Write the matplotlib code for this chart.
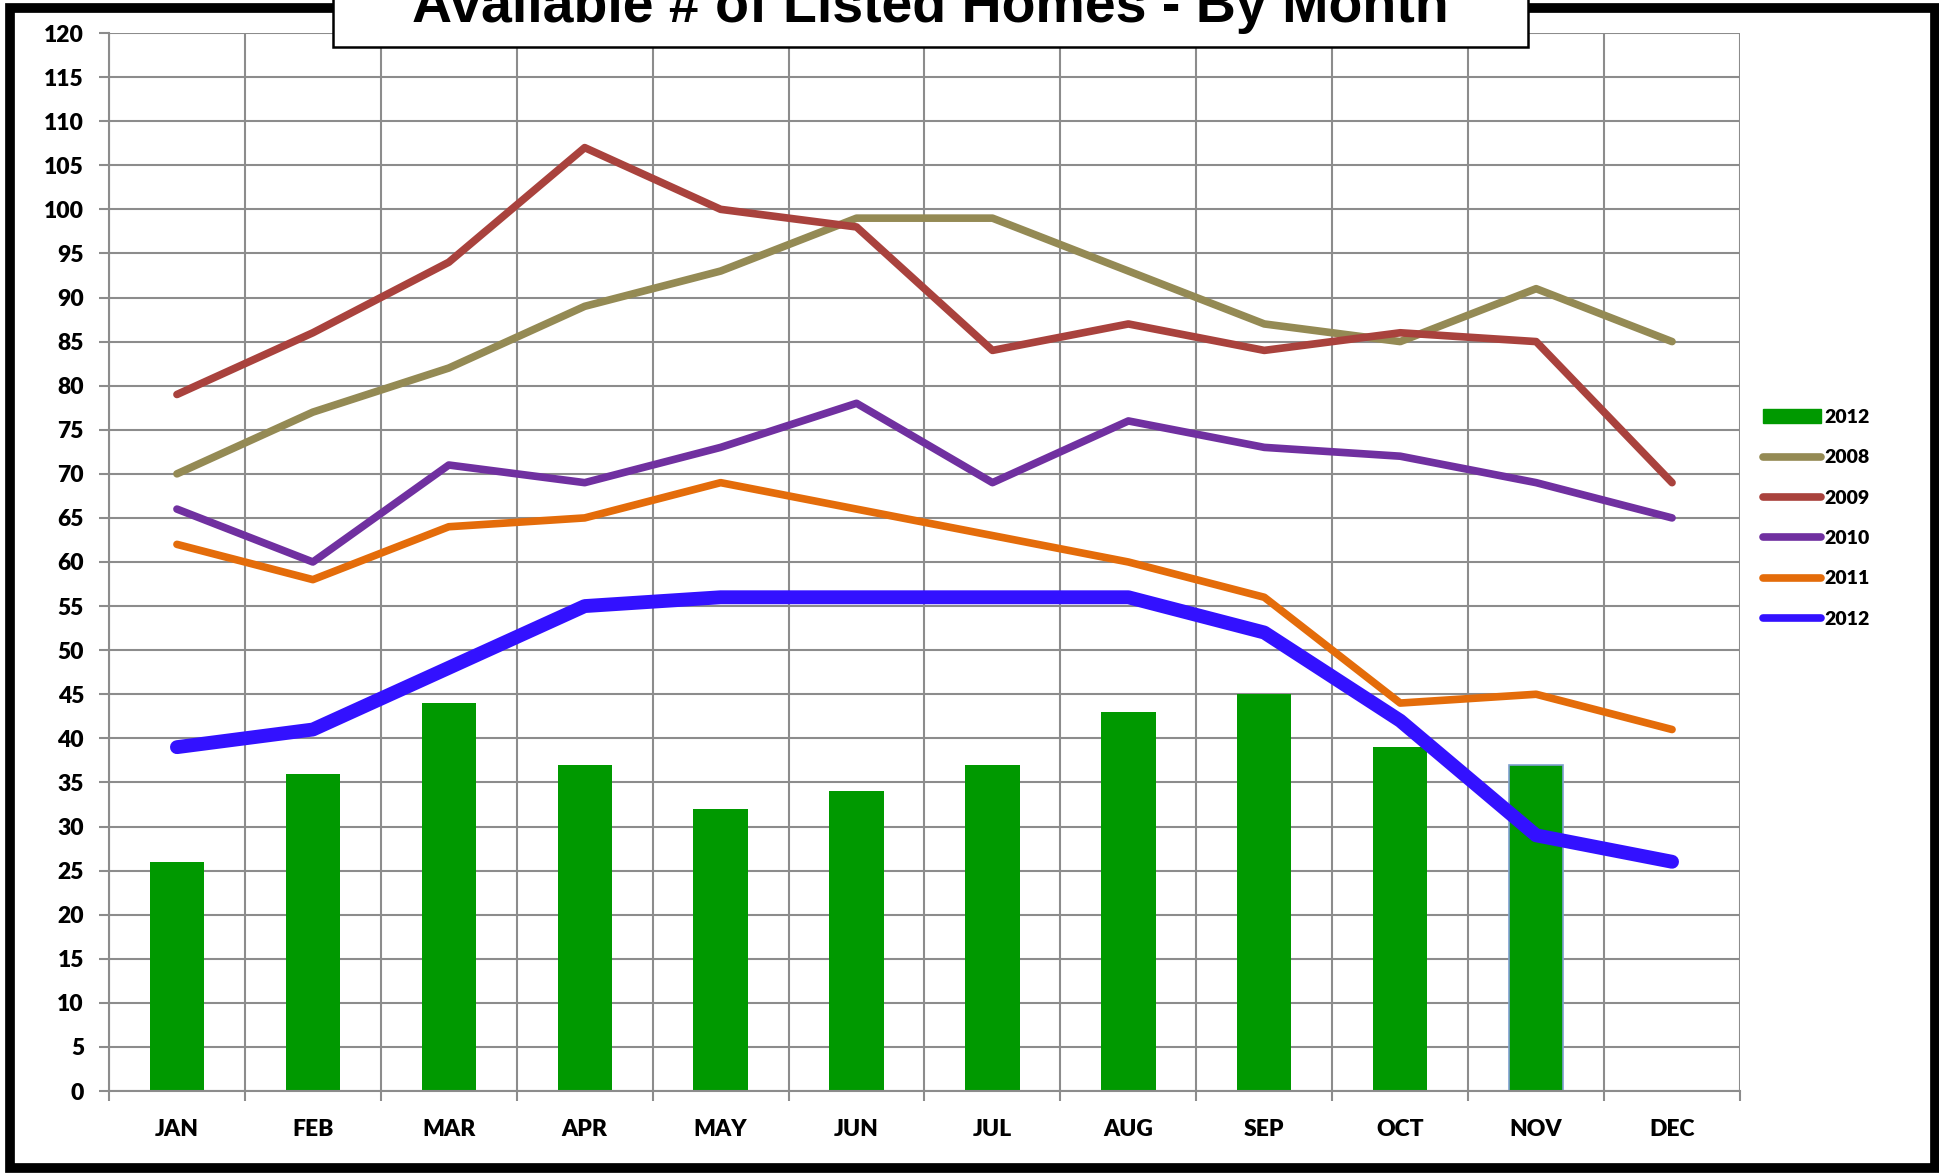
import matplotlib
matplotlib.use("Agg")
import matplotlib.pyplot as plt
import numpy as np
from matplotlib.patches import Rectangle
from matplotlib.lines import Line2D

# === DATA ===
months = ["JAN", "FEB", "MAR", "APR", "MAY", "JUN", "JUL", "AUG", "SEP", "OCT", "NOV", "DEC"]
bars_2012 = [26, 36, 44, 37, 32, 34, 37, 43, 45, 39, 37, None]
y2008 = [70, 77, 82, 89, 93, 99, 99, 93, 87, 85, 91, 85]
y2009 = [79, 86, 94, 107, 100, 98, 84, 87, 84, 86, 85, 69]
y2010 = [66, 60, 71, 69, 73, 78, 69, 76, 73, 72, 69, 65]
y2011 = [62, 58, 64, 65, 69, 66, 63, 60, 56, 44, 45, 41]
y2012 = [39, 41, 48, 55, 56, 56, 56, 56, 52, 42, 29, 26]
y_ticks = list(range(0, 125, 5))
title = "Available # of Listed Homes - By Month"

# === STYLE ===
W, H = 1940, 1176
tick_font = ["Lato", "DejaVu Sans"]
title_font = ["Liberation Sans Narrow", "Liberation Sans", "DejaVu Sans"]
grid_col = "#8c8c8c"
c_bar = "#009900"
c2008 = "#948a54"
c2009 = "#a9423d"
c2010 = "#7030a0"
c2011 = "#e46c0a"
c2012 = "#3311ff"

fig = plt.figure(figsize=(W / 100, H / 100), dpi=100)
fig.patch.set_facecolor("white")
ax = fig.add_axes([109 / W, 1 - 1091 / H, (1740 - 109) / W, (1091 - 33) / H])

x = np.arange(len(months))

# bars (skip missing)
bx = [i for i, v in enumerate(bars_2012) if v is not None]
bv = [v for v in bars_2012 if v is not None]
bars = ax.bar(bx, bv, width=0.4, color=c_bar, zorder=2)
bars[10].set_edgecolor("#7f9fcf")
bars[10].set_linewidth(1.2)

line_kw = dict(solid_joinstyle="round", solid_capstyle="round", zorder=3)
ax.plot(x, y2008, color=c2008, lw=5.5, **line_kw)
ax.plot(x, y2009, color=c2009, lw=5.5, **line_kw)
ax.plot(x, y2010, color=c2010, lw=5.5, **line_kw)
ax.plot(x, y2011, color=c2011, lw=5.5, **line_kw)
ax.plot(x, y2012, color=c2012, lw=10, **line_kw)

# axes & grid
ax.set_xlim(-0.5, 11.5)
ax.set_ylim(0, 120)
ax.set_yticks(y_ticks)
ax.set_yticklabels([str(t) for t in y_ticks], fontfamily=tick_font,
                   fontweight="heavy", fontsize=16.5)
ax.set_xticks(x)
ax.set_xticklabels(months, fontfamily=tick_font, fontweight="heavy", fontsize=16.5)
ax.set_xticks(np.arange(-0.5, 12, 1), minor=True)
ax.tick_params(axis="x", which="major", length=0, pad=20)
ax.tick_params(axis="x", which="minor", length=7, width=1.5, color=grid_col)
ax.tick_params(axis="y", length=7, width=1.5, color=grid_col, pad=11)
ax.grid(True, which="major", axis="y", color=grid_col, lw=1.5, zorder=0)
ax.grid(True, which="minor", axis="x", color=grid_col, lw=1.5, zorder=0)
ax.set_axisbelow(True)
for s in ["top", "right"]:
    ax.spines[s].set_visible(False)
for s in ["left", "bottom"]:
    ax.spines[s].set_color(grid_col)
    ax.spines[s].set_linewidth(1.5)

# legend
handles = [
    Rectangle((0, 0), 1, 1, color=c_bar),
    Line2D([], [], color=c2008, lw=5.5, solid_capstyle="round"),
    Line2D([], [], color=c2009, lw=5.5, solid_capstyle="round"),
    Line2D([], [], color=c2010, lw=5.5, solid_capstyle="round"),
    Line2D([], [], color=c2011, lw=5.5, solid_capstyle="round"),
    Line2D([], [], color=c2012, lw=5.5, solid_capstyle="round"),
]
labels = ["2012", "2008", "2009", "2010", "2011", "2012"]
fig.legend(handles, labels, loc="upper left", bbox_to_anchor=(1763 / W, 1 - 409 / H),
           frameon=False, borderpad=0, borderaxespad=0, handlelength=3.0,
           handletextpad=0.15, labelspacing=1.2,
           prop={"family": tick_font, "weight": "heavy", "size": 14})

# outer border
fig.patches.append(Rectangle((10 / W, 8 / H), (1935 - 10) / W, (1168 - 8) / H,
                             transform=fig.transFigure, fill=False,
                             edgecolor="black", lw=7, zorder=5))
# title box
fig.patches.append(Rectangle((333 / W, 1 - 47 / H), (1528 - 333) / W, 60 / H,
                             transform=fig.transFigure, facecolor="white",
                             edgecolor="black", lw=1.8, zorder=6))
fig.text(930 / W, 1 - 22 / H, title, ha="center", va="baseline",
         fontfamily=title_font, fontweight="bold", fontsize=40, zorder=7)

fig.savefig("out.png", dpi=100)
